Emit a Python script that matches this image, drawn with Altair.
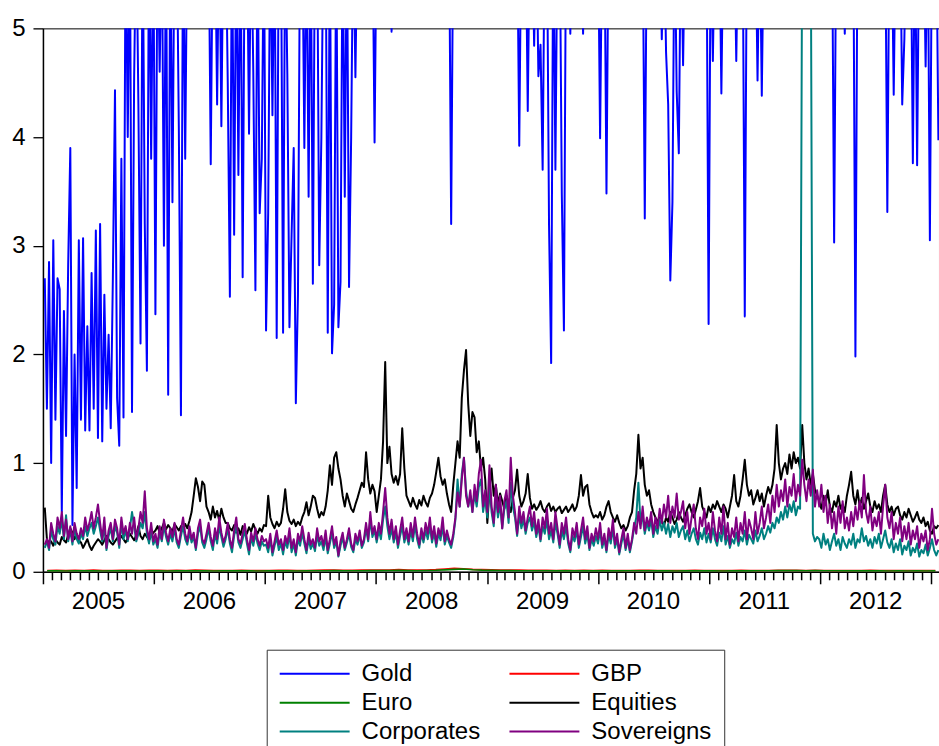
import altair as alt
import pandas as pd

SERIES = ["Gold", "GBP", "Euro", "Equities", "Corporates", "Sovereigns"]
COLORS = ["#0000ff", "#ff0000", "#008000", "#000000", "#008080", "#800080"]
YEAR_TICKS = [0, 1, 2, 3, 4, 5]

# weekly series (first Friday 2005 .. late Jan 2013); values above 5 run off the top of the plot
GOLD = [
    2.7, 1.5, 2.85, 1.0, 3.05, 1.4, 2.7, 2.6, 0.55, 2.4,
    1.25, 2.83, 3.9, 0.43, 2.0, 0.77, 3.05, 1.4, 3.07, 1.3,
    2.26, 1.3, 2.75, 1.5, 3.14, 1.23, 3.2, 1.2, 2.55, 1.5,
    2.18, 1.32, 2.7, 4.43, 1.6, 1.16, 3.8, 1.42, 6, 4.0,
    6, 1.47, 4.55, 6, 4.3, 2.1, 6, 3.2, 1.85, 6,
    3.8, 6,
    2.37, 6, 4.6, 6, 3.0, 6, 1.63, 6, 3.4, 6,
    6, 4.1, 1.44, 6, 3.8, 6, 6, 6, 6, 6,
    6, 6, 6, 6, 6, 6, 3.75, 6, 6, 4.3,
    6, 4.1, 6, 6, 4.5, 2.53, 6, 3.1, 6, 3.65,
    6, 2.71, 6, 6, 4.03, 6, 4.6, 2.59, 6, 3.3,
    3.8, 6,
    2.22, 3.3, 6, 4.2, 6, 2.15, 6, 6, 2.2, 6,
    4.58, 2.25, 3.1, 3.9, 1.55, 2.55, 6, 6, 3.9, 6,
    3.45, 6, 2.65, 6, 6, 2.82, 4.0, 6, 6, 2.2,
    6, 2.01, 2.46, 6, 2.25, 2.67, 6, 3.45, 6, 2.62,
    4.0, 6, 4.55, 6, 6, 6, 6, 6, 6, 6,
    6, 3.95,
    6, 6, 6, 6, 6, 6, 6, 4.97, 6, 6,
    6, 6, 6, 6, 6, 6, 6, 6, 6, 6,
    6, 6, 6, 6, 6, 6, 6, 6, 6, 6,
    6, 6, 6, 6, 6, 3.2, 6, 6, 6, 6,
    6, 6, 6, 6, 6, 6, 6, 6, 6, 6,
    6, 6,
    6, 6, 6, 6, 6, 6, 6, 6, 6, 6,
    6, 6, 6, 6, 6, 3.92, 6, 6, 6, 4.24,
    6, 6, 4.84, 6, 4.56, 4.85, 3.7, 6, 6, 3.19,
    1.92, 6, 3.7, 6, 6, 3.48, 2.22, 6, 6, 4.95,
    6, 6, 6, 6, 6, 4.95, 6, 6, 6, 6,
    6, 6,
    6, 3.99, 6, 6, 3.48, 6, 6, 6, 6, 6,
    6, 6, 6, 6, 6, 6, 6, 6, 6, 6,
    6, 6, 3.25, 6, 6, 6, 6, 6, 6, 6,
    4.9, 6, 4.78, 4.3, 2.68, 3.4, 6, 4.42, 3.85, 6,
    4.66, 6, 6, 6, 6, 6, 6, 6, 6, 6,
    6, 6,
    2.28, 6, 4.7, 6, 6, 6, 4.4, 6, 6, 6,
    6, 6, 6, 4.7, 6, 6, 6, 2.35, 6, 6,
    6, 6, 6, 4.52, 6, 4.38, 6, 6, 6, 6,
    6, 6, 6, 6, 6, 6, 6, 6, 6, 6,
    6, 6, 6, 6, 6, 6, 6, 6, 6, 6,
    6, 6,
    6, 6, 6, 6, 6, 6, 6, 3.03, 6, 6,
    6, 6, 4.95, 6, 6, 6, 6, 1.98, 6, 6,
    6, 6, 6, 6, 6, 6, 6, 6, 6, 6,
    6, 6, 3.31, 6, 6, 4.39, 6, 6, 6, 4.3,
    4.9, 6, 6, 6, 3.76, 6, 3.74, 6, 6, 6,
    4.65, 6, 3.05, 6, 6, 6, 3.97,
]

EQUITIES = [
    0.59, 0.3, 0.26, 0.28, 0.24, 0.3, 0.27, 0.25, 0.32, 0.29,
    0.27, 0.34, 0.4, 0.36, 0.3, 0.35, 0.29, 0.27, 0.22, 0.26,
    0.3, 0.24, 0.2, 0.24, 0.27, 0.3, 0.28, 0.25, 0.29, 0.33,
    0.3, 0.27, 0.25, 0.28, 0.31, 0.29, 0.33, 0.3, 0.27, 0.31,
    0.35, 0.32, 0.29, 0.34, 0.42, 0.33, 0.3, 0.35, 0.32, 0.29,
    0.33, 0.36,
    0.38, 0.42, 0.36, 0.4, 0.45, 0.39, 0.43, 0.4, 0.37, 0.44,
    0.41, 0.38, 0.42, 0.39, 0.44, 0.4, 0.47, 0.55, 0.7, 0.86,
    0.78, 0.65, 0.83, 0.8, 0.6, 0.55, 0.48, 0.6, 0.5, 0.56,
    0.47, 0.58, 0.5, 0.45, 0.45, 0.4, 0.38, 0.43, 0.36, 0.4,
    0.34, 0.42, 0.38, 0.35, 0.41, 0.37, 0.44, 0.39, 0.35, 0.4,
    0.37, 0.43,
    0.42, 0.7, 0.5, 0.44, 0.4, 0.46, 0.42, 0.45, 0.58, 0.76,
    0.55, 0.47, 0.44, 0.48, 0.42, 0.46, 0.43, 0.5, 0.55, 0.64,
    0.52, 0.6, 0.7, 0.68, 0.58, 0.5, 0.55, 0.52, 0.6, 0.75,
    0.98, 0.8, 1.05, 1.1, 0.95, 0.85, 0.7, 0.6, 0.72, 0.65,
    0.58, 0.55, 0.62, 0.68, 0.75, 0.82, 0.78, 1.1, 0.85, 0.72,
    0.8, 0.74,
    0.55, 0.7, 0.85, 1.2, 1.93, 1.0, 1.15, 0.9, 0.82, 0.88,
    0.8, 0.9, 1.32, 0.95, 0.7, 0.65, 0.6, 0.68, 0.62, 0.58,
    0.66, 0.61, 0.7, 0.64, 0.6, 0.68, 0.72, 0.8, 0.92, 1.05,
    0.88, 0.8, 0.85, 0.72, 0.62, 0.55, 0.8, 1.0, 1.2, 1.05,
    1.6, 1.85, 2.04, 1.55, 1.25, 1.47, 1.42, 1.1, 1.2, 0.95,
    1.05, 0.85,
    0.45, 0.75, 0.95, 0.7, 0.8, 0.62, 0.72, 0.65, 0.58, 0.7,
    0.62, 0.55, 0.68, 0.75, 0.94, 0.7, 0.6, 0.65, 0.72, 0.9,
    0.68, 0.58, 0.62, 0.57, 0.6, 0.65, 0.58, 0.55, 0.6, 0.63,
    0.56, 0.6, 0.55, 0.58, 0.6, 0.54, 0.57, 0.6, 0.55, 0.58,
    0.62, 0.56, 0.6, 0.7, 0.89, 0.7, 0.78, 0.8, 0.62, 0.55,
    0.5, 0.52,
    0.5, 0.55, 0.48, 0.52, 0.6, 0.65, 0.55, 0.5, 0.46, 0.52,
    0.45, 0.4, 0.43, 0.38, 0.42, 0.5, 0.55, 0.75, 0.9, 1.26,
    0.95, 1.05, 0.8, 0.7, 0.75, 0.62, 0.55, 0.5, 0.45, 0.52,
    0.48, 0.42, 0.5, 0.46, 0.55, 0.5, 0.44, 0.48, 0.55, 0.5,
    0.46, 0.52, 0.58, 0.62, 0.55, 0.5, 0.57, 0.65, 0.77, 0.6,
    0.55, 0.5,
    0.6, 0.55, 0.62, 0.58, 0.65, 0.6, 0.55, 0.62, 0.58, 0.5,
    0.6, 0.7, 0.89, 0.65, 0.6, 0.7, 0.85, 1.03, 0.8, 0.7,
    0.75, 0.62, 0.68, 0.75, 0.65, 0.72, 0.6, 0.7, 0.78, 0.72,
    0.8, 0.95, 1.35, 1.0, 0.85, 0.95, 1.0, 0.9, 1.08, 0.95,
    1.1, 1.0, 1.05, 0.95, 1.35, 1.0, 0.85, 0.95, 0.8, 0.9,
    0.75, 0.7,
    0.65, 0.58, 0.7, 0.62, 0.75, 0.6, 0.55, 0.65, 0.6, 0.7,
    0.58, 0.62, 0.55, 0.7, 0.8, 0.92, 0.7, 0.62, 0.75, 0.6,
    0.68, 0.58, 0.65, 0.72, 0.6, 0.55, 0.65, 0.58, 0.62, 0.55,
    0.7, 0.8, 0.62, 0.55, 0.6, 0.52, 0.58, 0.6, 0.52, 0.48,
    0.55, 0.5, 0.58, 0.52, 0.46, 0.5, 0.55, 0.48, 0.45, 0.5,
    0.42, 0.46, 0.38, 0.35, 0.42, 0.4, 0.43,
]

CORPORATES = [
    0.22, 0.28, 0.2, 0.38, 0.3, 0.25, 0.42, 0.35, 0.48, 0.3,
    0.52, 0.28, 0.38, 0.25, 0.4, 0.3, 0.26, 0.35, 0.3, 0.42,
    0.33, 0.4, 0.45, 0.35, 0.42, 0.5, 0.38, 0.28, 0.42, 0.2,
    0.33, 0.4, 0.28, 0.42, 0.36, 0.22, 0.45, 0.3, 0.38, 0.28,
    0.4, 0.55, 0.42, 0.28, 0.35, 0.45, 0.4, 0.55, 0.35, 0.26,
    0.38, 0.25,
    0.3, 0.22, 0.36, 0.28, 0.42, 0.32, 0.25, 0.35, 0.28, 0.4,
    0.27, 0.22, 0.33, 0.42, 0.3, 0.25, 0.36, 0.27, 0.32, 0.2,
    0.35, 0.42, 0.27, 0.22, 0.3, 0.4, 0.28, 0.2, 0.35, 0.26,
    0.42, 0.32, 0.23, 0.3, 0.4, 0.26, 0.18, 0.33, 0.43, 0.27,
    0.22, 0.3, 0.38, 0.26, 0.16, 0.32, 0.24, 0.35, 0.26, 0.2,
    0.28, 0.24,
    0.25, 0.18, 0.3, 0.15, 0.24, 0.32, 0.2, 0.26, 0.16, 0.28,
    0.22, 0.34, 0.18, 0.26, 0.15, 0.3, 0.24, 0.36, 0.26, 0.17,
    0.3, 0.21, 0.26, 0.19, 0.34, 0.24, 0.28, 0.2, 0.32, 0.17,
    0.26, 0.36, 0.22, 0.28, 0.14, 0.24, 0.32, 0.2, 0.27, 0.35,
    0.23, 0.18, 0.3, 0.25, 0.34, 0.22, 0.27, 0.4, 0.28, 0.48,
    0.32, 0.38,
    0.27, 0.38, 0.3, 0.48, 0.6, 0.42, 0.3, 0.4, 0.27, 0.36,
    0.22, 0.33, 0.42, 0.27, 0.35, 0.25, 0.38, 0.28, 0.43, 0.3,
    0.22, 0.35, 0.27, 0.38, 0.3, 0.42, 0.27, 0.36, 0.23, 0.35,
    0.29, 0.42, 0.25, 0.33, 0.27, 0.22, 0.32, 0.48, 0.85, 0.6,
    0.9, 1.05, 0.75, 0.6, 0.7, 0.55, 0.72, 0.6, 0.78, 0.85,
    0.55, 0.68,
    0.5, 0.8, 0.55, 0.42, 0.7, 0.5, 0.62, 0.4, 0.58, 0.65,
    0.45, 0.82, 0.6, 0.5, 0.33, 0.52, 0.4, 0.48, 0.35, 0.45,
    0.5, 0.38, 0.46, 0.32, 0.42, 0.28, 0.42, 0.35, 0.48, 0.3,
    0.38, 0.27, 0.45, 0.35, 0.22, 0.38, 0.3, 0.42, 0.26, 0.18,
    0.33, 0.28, 0.38, 0.22, 0.32, 0.42, 0.26, 0.35, 0.2, 0.3,
    0.24, 0.33,
    0.26, 0.38, 0.22, 0.3, 0.18, 0.34, 0.26, 0.4, 0.22, 0.3,
    0.16, 0.26, 0.35, 0.2, 0.3, 0.18, 0.28, 0.4, 0.5, 0.82,
    0.45, 0.5, 0.35, 0.45, 0.38, 0.48, 0.32, 0.42, 0.35, 0.48,
    0.38, 0.45, 0.35, 0.44, 0.32, 0.42, 0.36, 0.45, 0.32, 0.38,
    0.42, 0.3, 0.38, 0.28, 0.35, 0.4, 0.3, 0.25, 0.36, 0.3,
    0.4, 0.27,
    0.35, 0.27, 0.4, 0.3, 0.24, 0.36, 0.28, 0.42, 0.25, 0.33,
    0.22, 0.3, 0.26, 0.36, 0.24, 0.32, 0.28, 0.38, 0.25, 0.34,
    0.3, 0.26, 0.38, 0.28, 0.33, 0.4, 0.3, 0.35, 0.42, 0.36,
    0.45, 0.4, 0.5, 0.45, 0.55, 0.48, 0.6, 0.5, 0.62, 0.55,
    0.65, 0.52, 0.6, 0.58, 6, 6, 6, 6, 6, 0.35,
    0.28, 0.32,
    0.3, 0.22, 0.35, 0.25, 0.3, 0.2, 0.28, 0.35, 0.24, 0.3,
    0.2, 0.32, 0.26, 0.22, 0.3, 0.25, 0.35, 0.22, 0.3, 0.27,
    0.4, 0.28, 0.33, 0.24, 0.3, 0.22, 0.32, 0.26, 0.35, 0.22,
    0.3, 0.38, 0.27, 0.22, 0.3, 0.18, 0.26, 0.2, 0.3, 0.16,
    0.24, 0.2, 0.28, 0.15, 0.22, 0.18, 0.26, 0.14, 0.2, 0.17,
    0.25, 0.15, 0.22, 0.3, 0.2, 0.15, 0.2,
]

SOVEREIGNS = [
    0.25, 0.3, 0.22, 0.45, 0.35, 0.28, 0.5, 0.4, 0.55, 0.33,
    0.48, 0.3, 0.42, 0.28, 0.45, 0.35, 0.3, 0.4, 0.33, 0.5,
    0.38, 0.45, 0.55, 0.4, 0.5, 0.62, 0.45, 0.3, 0.5, 0.22,
    0.38, 0.45, 0.3, 0.48, 0.4, 0.25, 0.5, 0.35, 0.42, 0.3,
    0.45, 0.35, 0.5, 0.3, 0.4, 0.55, 0.45, 0.74, 0.4, 0.3,
    0.45, 0.28,
    0.35, 0.25, 0.42, 0.3, 0.48, 0.36, 0.28, 0.4, 0.32, 0.45,
    0.3, 0.25, 0.38, 0.5, 0.35, 0.28, 0.42, 0.3, 0.36, 0.22,
    0.4, 0.48, 0.3, 0.26, 0.35, 0.45, 0.32, 0.24, 0.4, 0.3,
    0.5, 0.36, 0.27, 0.33, 0.45, 0.3, 0.22, 0.38, 0.5, 0.3,
    0.26, 0.35, 0.44, 0.3, 0.2, 0.36, 0.28, 0.4, 0.3, 0.24,
    0.33, 0.28,
    0.3, 0.22, 0.35, 0.18, 0.28, 0.38, 0.25, 0.3, 0.2, 0.33,
    0.26, 0.4, 0.22, 0.3, 0.18, 0.35, 0.28, 0.42, 0.3, 0.2,
    0.36, 0.25, 0.3, 0.22, 0.4, 0.28, 0.33, 0.24, 0.38, 0.2,
    0.3, 0.42, 0.25, 0.32, 0.15, 0.28, 0.36, 0.22, 0.3, 0.4,
    0.26, 0.2, 0.35, 0.28, 0.38, 0.24, 0.3, 0.45, 0.3, 0.55,
    0.35, 0.42,
    0.3, 0.45, 0.35, 0.55, 0.77, 0.5, 0.35, 0.48, 0.3, 0.42,
    0.25, 0.38, 0.5, 0.3, 0.4, 0.28, 0.45, 0.32, 0.5, 0.35,
    0.25, 0.4, 0.3, 0.45, 0.35, 0.5, 0.3, 0.42, 0.26, 0.4,
    0.33, 0.5, 0.28, 0.38, 0.3, 0.25, 0.35, 0.5, 0.73, 0.6,
    0.85, 1.05, 0.7, 0.6, 0.75, 0.55, 0.8, 0.65, 0.9, 1.03,
    0.6, 0.75,
    0.55, 0.98, 0.6, 0.45, 0.8, 0.55, 0.7, 0.4, 0.65, 0.75,
    0.5, 1.05, 0.7, 0.55, 0.35, 0.6, 0.45, 0.55, 0.38, 0.5,
    0.6, 0.42, 0.55, 0.35, 0.48, 0.3, 0.5, 0.4, 0.58, 0.35,
    0.45, 0.3, 0.55, 0.4, 0.25, 0.45, 0.35, 0.5, 0.3, 0.2,
    0.4, 0.32, 0.45, 0.25, 0.38, 0.5, 0.3, 0.42, 0.22, 0.35,
    0.28, 0.4,
    0.3, 0.45, 0.25, 0.35, 0.2, 0.4, 0.3, 0.48, 0.25, 0.35,
    0.18, 0.3, 0.4, 0.22, 0.35, 0.2, 0.3, 0.45, 0.35, 0.55,
    0.4, 0.6, 0.38, 0.5, 0.42, 0.55, 0.35, 0.5, 0.4, 0.58,
    0.45, 0.62, 0.5, 0.7, 0.45, 0.6, 0.5, 0.72, 0.48, 0.55,
    0.65, 0.4, 0.55, 0.35, 0.5, 0.62, 0.4, 0.3, 0.5, 0.42,
    0.58, 0.35,
    0.45, 0.3, 0.55, 0.38, 0.28, 0.5, 0.35, 0.6, 0.3, 0.45,
    0.25, 0.4, 0.32, 0.5, 0.28, 0.45, 0.35, 0.55, 0.3, 0.48,
    0.4, 0.3, 0.55, 0.35, 0.45, 0.6, 0.4, 0.5, 0.62, 0.45,
    0.7, 0.55, 0.8, 0.6, 0.75, 0.65, 0.85, 0.6, 0.78, 0.7,
    0.9, 0.65, 0.8, 0.7, 1.03, 0.8, 0.65, 0.85, 0.7, 0.94,
    0.6, 0.75,
    0.6, 0.8, 0.55, 0.7, 0.45, 0.62, 0.4, 0.55, 0.35, 0.6,
    0.45, 0.65, 0.4, 0.5, 0.38, 0.55, 0.42, 0.6, 0.48, 0.65,
    0.5, 0.89, 0.55, 0.45, 0.6, 0.38, 0.5, 0.42, 0.55, 0.35,
    0.6, 0.8, 0.5, 0.4, 0.55, 0.3, 0.45, 0.35, 0.5, 0.28,
    0.42, 0.3, 0.45, 0.25, 0.38, 0.3, 0.42, 0.22, 0.35, 0.28,
    0.38, 0.2, 0.3, 0.58, 0.35, 0.25, 0.3,
]

# monthly series, mid-January 2005 .. mid-January 2013
GBP = [
    0.012, 0.014, 0.011, 0.013, 0.012, 0.015, 0.012, 0.011, 0.013, 0.014, 0.012, 0.013,
    0.013, 0.012, 0.014, 0.012, 0.015, 0.013, 0.012, 0.011, 0.012, 0.013, 0.012, 0.011,
    0.012, 0.013, 0.014, 0.012, 0.011, 0.013, 0.015, 0.016, 0.014, 0.013, 0.015, 0.016,
    0.015, 0.017, 0.02, 0.016, 0.015, 0.017, 0.02, 0.026, 0.032, 0.028, 0.022, 0.02,
    0.018, 0.016, 0.017, 0.015, 0.014, 0.013, 0.014, 0.012, 0.013, 0.012, 0.013, 0.012,
    0.013, 0.012, 0.011, 0.012, 0.014, 0.013, 0.012, 0.012, 0.011, 0.012, 0.013, 0.012,
    0.012, 0.011, 0.012, 0.013, 0.012, 0.011, 0.012, 0.013, 0.014, 0.013, 0.012, 0.013,
    0.012, 0.011, 0.012, 0.011, 0.012, 0.013, 0.012, 0.011, 0.012, 0.011, 0.012, 0.011,
    0.012,
]
EURO = [
    0.008, 0.009, 0.007, 0.008, 0.009, 0.008, 0.007, 0.008, 0.009, 0.008, 0.007, 0.008,
    0.008, 0.007, 0.009, 0.008, 0.009, 0.008, 0.007, 0.008, 0.008, 0.009, 0.008, 0.007,
    0.008, 0.009, 0.008, 0.007, 0.008, 0.009, 0.01, 0.011, 0.01, 0.009, 0.01, 0.011,
    0.011, 0.012, 0.013, 0.011, 0.01, 0.012, 0.014, 0.018, 0.022, 0.026, 0.019, 0.015,
    0.013, 0.012, 0.011, 0.01, 0.009, 0.01, 0.009, 0.008, 0.009, 0.008, 0.009, 0.008,
    0.009, 0.008, 0.008, 0.009, 0.01, 0.009, 0.008, 0.008, 0.007, 0.008, 0.009, 0.008,
    0.008, 0.007, 0.008, 0.009, 0.008, 0.009, 0.01, 0.011, 0.012, 0.011, 0.01, 0.011,
    0.01, 0.009, 0.008, 0.009, 0.008, 0.009, 0.008, 0.007, 0.008, 0.007, 0.008, 0.007,
    0.008,
]

WEEKLY = {"Gold": GOLD, "Equities": EQUITIES, "Corporates": CORPORATES, "Sovereigns": SOVEREIGNS}
MONTHLY = {"GBP": GBP, "Euro": EURO}


def frame(name):
    if name in WEEKLY:
        vals = WEEKLY[name]
        dates = pd.date_range("2005-01-07", "2013-01-25", periods=len(vals))
    else:
        vals = MONTHLY[name]
        dates = pd.date_range("2005-01-15", "2013-01-15", periods=len(vals))
    return pd.DataFrame({"date": dates.strftime("%Y-%m-%dT%H:%M:%S"), "value": vals, "series": name})


FONT = "Liberation Sans"
month_ticks = [alt.DateTime(year=2005 + k // 12, month=k % 12 + 1, date=1) for k in range(97)]

x_enc = alt.X(
    "date:T",
    scale=alt.Scale(domain=[alt.DateTime(year=2005, month=1, date=1),
                            alt.DateTime(year=2013, month=1, date=27)]),
    axis=alt.Axis(
        values=month_ticks,
        title=None,
        grid=False,
        domainColor="black",
        domainWidth=1.5,
        tickColor="black",
        tickWidth=1.5,
        tickSize={"condition": {"test": "month(datum.value) == 0", "value": 12}, "value": 8},
        labelExpr="month(datum.value) == 6 ? timeFormat(datum.value, '%Y') : ''",
        labelFont=FONT,
        labelFontSize=24,
        labelColor="black",
        labelPadding=10,
        labelOverlap=False,
        labelFlush=False,
    ),
)
y_enc = alt.Y(
    "value:Q",
    scale=alt.Scale(domain=[0, 5], nice=False, zero=False),
    axis=alt.Axis(
        values=YEAR_TICKS,
        format="d",
        title=None,
        grid=False,
        domainColor="black",
        domainWidth=1.5,
        tickColor="black",
        tickWidth=1.3,
        tickSize=10,
        labelFont=FONT,
        labelFontSize=24,
        labelColor="black",
        labelPadding=8,
    ),
)
color_enc = alt.Color(
    "series:N",
    scale=alt.Scale(domain=SERIES, range=COLORS),
    legend=alt.Legend(
        title=None,
        orient="none",
        legendX=224,
        legendY=622,
        direction="horizontal",
        columns=2,
        symbolType="stroke",
        symbolSize=4900,
        symbolStrokeWidth=2,
        labelFont=FONT,
        labelFontSize=24,
        labelColor="black",
        labelOffset=11,
        labelLimit=0,
        columnPadding=28,
        rowPadding=5,
        clipHeight=24,
        padding=12,
        strokeColor="#333333",
    ),
)

layers = []
for name in SERIES:
    layers.append(
        alt.Chart(frame(name))
        .mark_line(clip=True, strokeWidth=2 if name in WEEKLY else 1.6, strokeJoin="round")
        .encode(x=x_enc, y=y_enc, color=color_enc)
    )

chart = (
    alt.layer(*layers)
    .properties(
        width=897,
        height=544,
        autosize=alt.AutoSizeParams(type="none"),
        padding={"left": 43, "top": 28, "right": 0, "bottom": 174},
        background="white",
    )
    .configure_view(stroke="black", strokeWidth=1)
)

chart.save("out.html", embed_options={"renderer": "svg", "actions": False})
